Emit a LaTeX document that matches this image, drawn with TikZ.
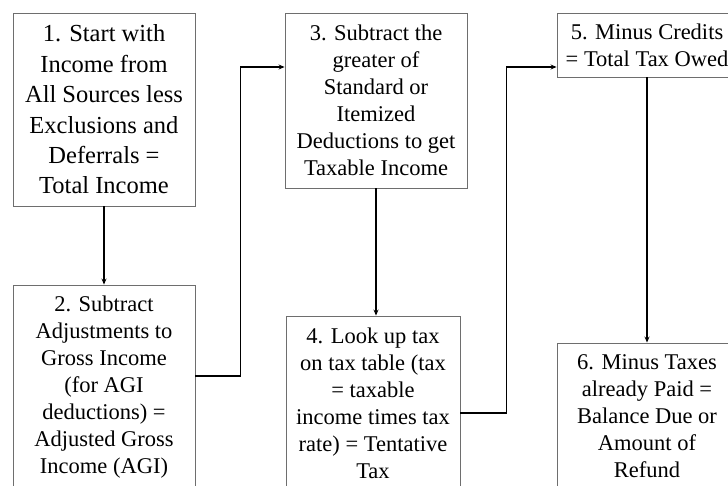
\documentclass[tikz,border=0pt]{standalone}
\usepackage{fontspec}
\setmainfont{Liberation Serif}
\usetikzlibrary{arrows.meta}
\definecolor{boxline}{RGB}{110,110,110}
\tikzset{
  stepbox/.style={draw=boxline, line width=0.9pt, fill=white, align=center, inner sep=0pt,
    font=\fontsize{22.5}{27}\selectfont},
  bigbox/.style={stepbox, font=\fontsize{24.5}{30.4}\selectfont},
  arr/.style={draw=black, line width=1.3pt, -{Stealth[length=6pt,width=5pt]}}
}
\begin{document}
\begin{tikzpicture}[x=1pt,y=-1pt]
\useasboundingbox (0,0) rectangle (728,485);
\fill[white] (0,0) rectangle (728,485);
\node[bigbox, minimum width=182pt, minimum height=193pt] (b1) at (104,109.5)
  {1. Start with\\Income from\\All Sources less\\Exclusions and\\Deferrals =\\Total Income};
\node[stepbox, minimum width=182pt, minimum height=204pt] (b2) at (104,387)
  {2.  Subtract\\Adjustments to\\Gross Income\\(for AGI\\deductions) =\\Adjusted Gross\\Income (AGI)};
\node[stepbox, minimum width=182pt, minimum height=175pt] (b3) at (376,100.5)
  {3.  Subtract the\\greater of\\Standard or\\Itemized\\Deductions to get\\Taxable Income};
\node[stepbox, minimum width=174pt, minimum height=175pt] (b4) at (373,403.5)
  {4.  Look up tax\\on tax table (tax\\= taxable\\income times tax\\rate) = Tentative\\Tax};
\node[stepbox, minimum width=180pt, minimum height=64pt] (b5) at (647,45)
  {5. Minus Credits\\= Total Tax Owed};
\node[stepbox, minimum width=180pt, minimum height=147pt] (b6) at (647,416.5)
  {6.  Minus Taxes\\already Paid =\\Balance Due or\\Amount of\\Refund};
\coordinate (p2) at ([yshift=11pt]b2.east);
\coordinate (p3) at ([yshift=33.5pt]b3.west);
\coordinate (p4) at ([yshift=-9.5pt]b4.east);
\coordinate (p5) at ([yshift=-22pt]b5.west);
\draw[arr] (b1.south) -- (b2.north);
\draw[arr] (p2) -- ++(45,0) |- (p3);
\draw[arr] (b3.south) -- (b3.south |- b4.north);
\draw[arr] (p4) -- ++(46,0) |- (p5);
\draw[arr] (b5.south) -- (b6.north);
\end{tikzpicture}
\end{document}
